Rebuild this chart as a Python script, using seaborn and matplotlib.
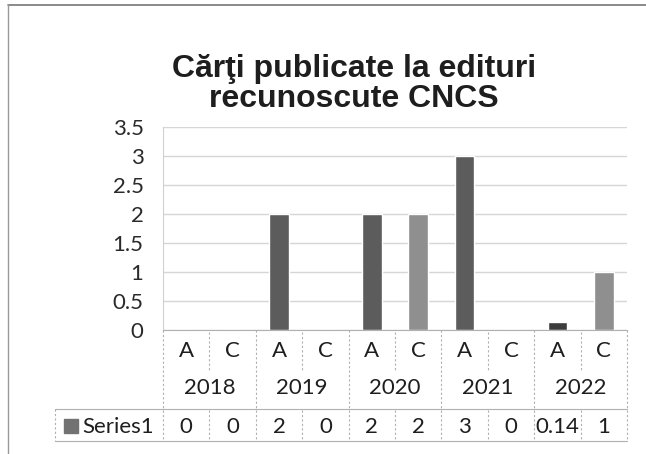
import matplotlib
matplotlib.use("Agg")
import matplotlib.pyplot as plt
import seaborn as sns
import pandas as pd
import numpy as np
from matplotlib.lines import Line2D
from matplotlib.patches import Rectangle
import matplotlib.transforms as mtransforms

years = ["2018", "2019", "2020", "2021", "2022"]
types = ["A", "C"]
values = [0, 0, 2, 0, 2, 2, 3, 0, 0.14, 1]
value_labels = ["0", "0", "2", "0", "2", "2", "3", "0", "0.14", "1"]
series_name = "Series1"
title = "Cărţi publicate la edituri\nrecunoscute CNCS"
yticks = [0, 0.5, 1, 1.5, 2, 2.5, 3, 3.5]

cats = [f"{y} {t}" for y in years for t in types]
kinds = [t for y in years for t in types]
df = pd.DataFrame({"cat": cats, "value": values, "kind": kinds})

bar_colors = {c: ("#5c5c5c" if k == "A" else "#8f8f8f") for c, k in zip(cats, kinds)}
bar_colors["2022 A"] = "#3c3c3c"

sns.set_style("white")
plt.rcParams["font.family"] = ["Lato", "DejaVu Sans"]

W, H = 646, 454
fig = plt.figure(figsize=(W / 100, H / 100), dpi=100)

def fx(px):
    return px / W

def fy(py):
    return 1 - py / H

L, R, T, B = 163, 627, 127, 330
ax = fig.add_axes([fx(L), fy(B), fx(R) - fx(L), fy(T) - fy(B)])

sns.barplot(data=df, x="cat", y="value", hue="cat", dodge=False,
            palette=bar_colors, width=0.42, ax=ax, legend=False,
            saturation=1)

ax.set_ylim(0, 3.5)
ax.set_xlim(-0.5, len(cats) - 0.5)
ax.set_yticks(yticks)
ax.set_yticklabels([f"{v:g}" for v in yticks], fontsize=16, color="#2a2a2a")
ax.tick_params(axis="y", length=0, pad=14)
ax.set_xticks([])
ax.set_xlabel("")
ax.set_ylabel("")
ax.yaxis.grid(True, color="#d6d6d6", linewidth=1)
ax.set_axisbelow(True)
for s in ["top", "right", "bottom"]:
    ax.spines[s].set_visible(False)
ax.spines["left"].set_color("#d0d0d0")

fig.text(fx(354), fy(84), title, ha="center", va="center", fontsize=23,
         fontweight="bold", family="Liberation Sans", color="#1e1e1e",
         linespacing=1.0)

# Data table beneath the axes
blend = mtransforms.blended_transform_factory(ax.transData, fig.transFigure)
line_col = "#b0b0b0"
tcol = "#1e1e1e"

for i, c in enumerate(cats):
    ax.text(i, fy(351), kinds[i], transform=blend, ha="center", va="center",
            fontsize=16, color=tcol)
    ax.text(i, fy(427), value_labels[i], transform=blend, ha="center",
            va="center", fontsize=16, color=tcol)
for j, y in enumerate(years):
    ax.text(2 * j + 0.5, fy(388), y, transform=blend, ha="center",
            va="center", fontsize=16, color=tcol)

def vline(xdata, y0, y1, ls=(0, (2, 2))):
    fig.add_artist(Line2D([xdata, xdata], [fy(y0), fy(y1)], transform=blend,
                          color=line_col, lw=0.8, ls=ls))

for k in range(len(cats) + 1):
    xb = k - 0.5
    if k % 2 == 0:
        vline(xb, 330, 441)
    else:
        vline(xb, 332, 370)
        vline(xb, 410, 441)

def hline(px0, px1, py):
    fig.add_artist(Line2D([fx(px0), fx(px1)], [fy(py), fy(py)],
                          transform=fig.transFigure, color=line_col, lw=0.8))

hline(L, R, 330)
hline(55, R, 409)
hline(55, R, 441)
fig.add_artist(Line2D([fx(55), fx(55)], [fy(409), fy(441)],
                      transform=fig.transFigure, color=line_col, lw=0.8,
                      ls=(0, (2, 2))))
fig.add_artist(Rectangle((fx(64), fy(433)), fx(14), fy(419) - fy(433),
                         transform=fig.transFigure, color="#727272"))
fig.text(fx(82), fy(427), series_name, ha="left", va="center", fontsize=16,
         color=tcol)

# outer chart frame (scan border)
fig.add_artist(Line2D([fx(8), fx(646)], [fy(5), fy(5)],
                      transform=fig.transFigure, color="#777777", lw=1.2))
fig.add_artist(Line2D([fx(8), fx(8)], [fy(5), fy(454)],
                      transform=fig.transFigure, color="#999999", lw=1.0))

fig.savefig("out.png", dpi=100, facecolor="white")
